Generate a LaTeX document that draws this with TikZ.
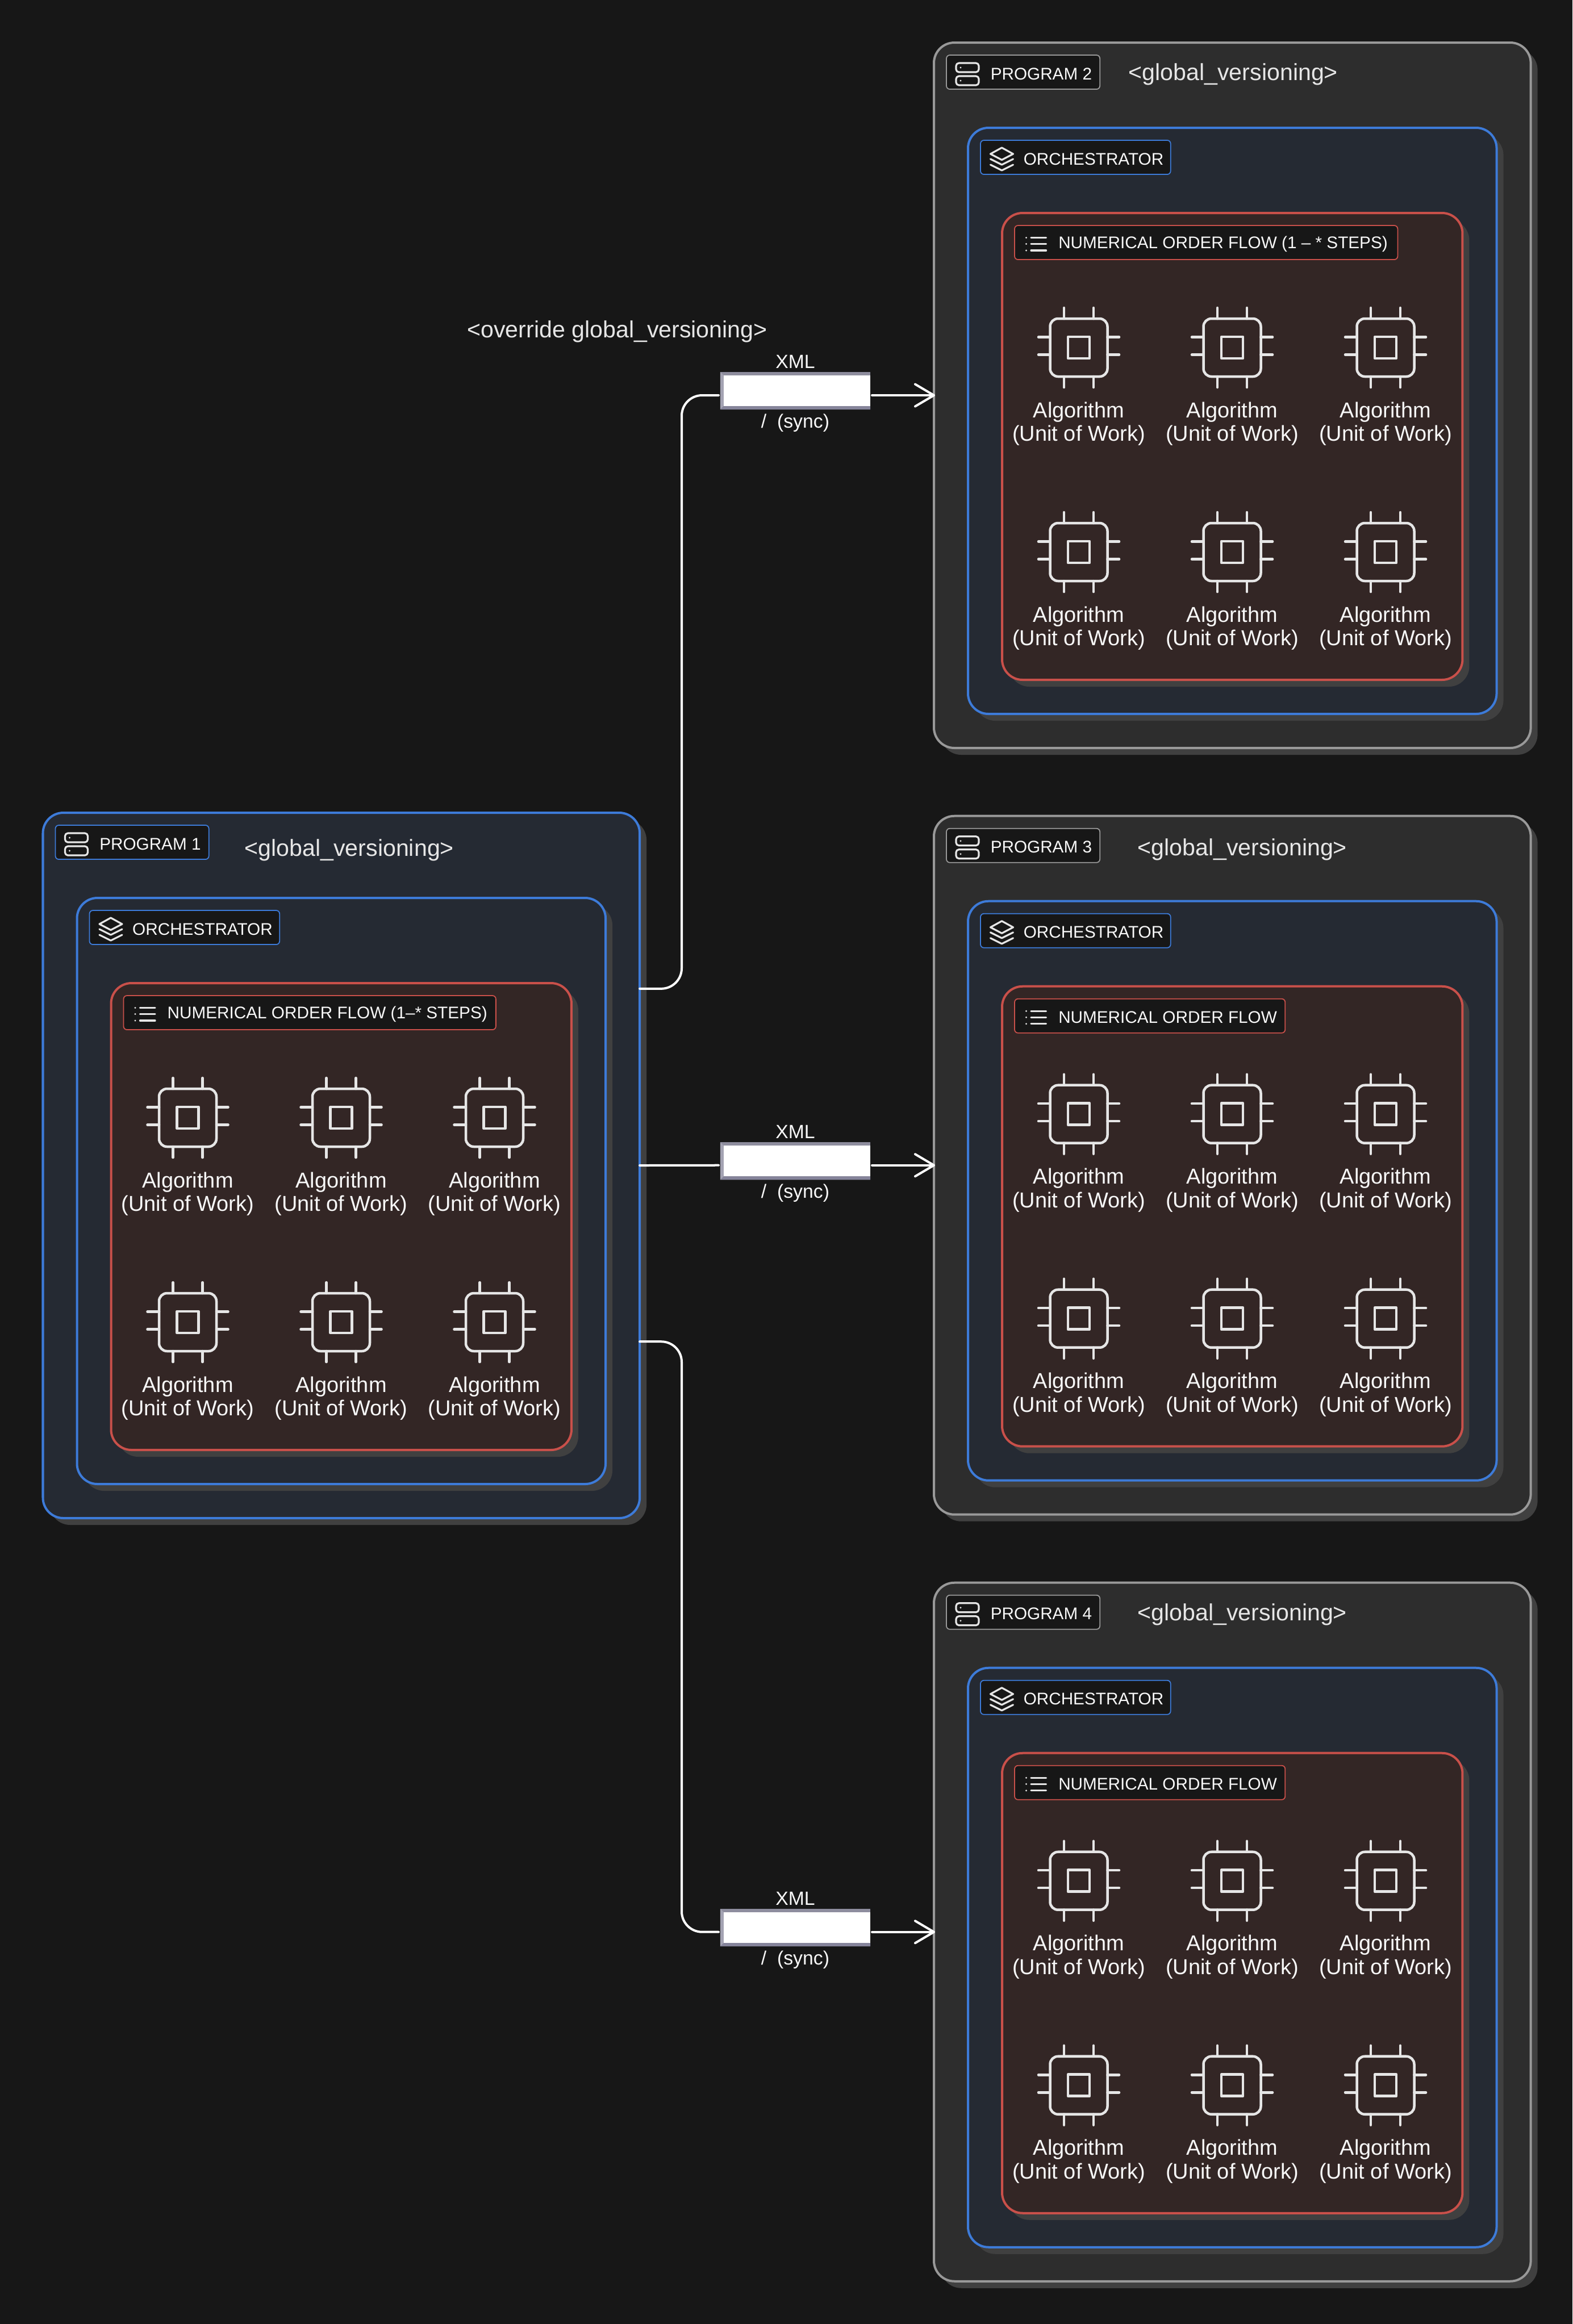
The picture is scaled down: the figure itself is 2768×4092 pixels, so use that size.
\documentclass[tikz,border=0pt]{standalone}
\usepackage{fontspec}
\setmainfont{Liberation Sans}
\usetikzlibrary{arrows.meta,shadows}
\definecolor{canvasdark}{HTML}{171717}
\definecolor{shadowgrey}{HTML}{404040}
\definecolor{panelgrey}{HTML}{2D2D2D}
\definecolor{panelblue}{HTML}{252A33}
\definecolor{panelred}{HTML}{332625}
\definecolor{edgegrey}{HTML}{999999}
\definecolor{edgeblue}{HTML}{3D7BD9}
\definecolor{edgered}{HTML}{C9504A}
\definecolor{inkpale}{HTML}{F8F8F8}
\definecolor{iconpale}{HTML}{E6E6E6}
\definecolor{bevelmid}{HTML}{8E8D9E}
\definecolor{bevellight}{HTML}{A3A2B2}
\definecolor{beveldark}{HTML}{85849A}

\begin{document}
\begin{tikzpicture}[
  x=0.01cm,
  y=-0.01cm,
  panel/.style={rectangle, rounded corners=0.36cm, line width=0.04cm, outer sep=0pt,
    inner sep=0pt, anchor=north west,
    copy shadow={draw=none, fill=shadowgrey, shadow xshift=0.12cm, shadow yshift=-0.12cm}},
  tagbox/.style={rectangle, rounded corners=0.06cm, line width=0.018cm, fill=canvasdark,
    outer sep=0pt, inner sep=0pt, anchor=north west, minimum height=0.6cm},
  tagtext/.style={anchor=west, inner sep=0pt, text=inkpale, yshift=-0.03cm,
    font=\fontsize{8.45}{10}\selectfont},
  headtext/.style={anchor=west, inner sep=0pt, text=iconpale, yshift=-0.03cm,
    font=\fontsize{11.7}{14}\selectfont},
  chiptext/.style={align=center, inner sep=0pt, text=inkpale, yshift=-0.035cm,
    font=\fontsize{10.8}{11.8}\selectfont},
  linktext/.style={inner sep=0pt, text=inkpale, yshift=-0.025cm,
    font=\fontsize{9.6}{11}\selectfont},
  icon/.style={iconpale, line width=0.032cm, line join=round, line cap=round},
  xmlbox/.style={rectangle, fill=bevelmid, outer sep=0pt, inner sep=0pt,
    minimum width=2.64cm, minimum height=0.66cm},
  wire/.style={white, line width=0.04cm, line cap=round},
  arrowwire/.style={wire, -{Straight Barb[length=0.33cm, width=0.39cm, round]}},
  servericon/.pic={
    \draw[icon, rounded corners=0.05cm] (17,-16) rectangle (57,0);
    \draw[icon, rounded corners=0.05cm] (17,7) rectangle (57,23);
    \fill[iconpale] (25,-8) circle[radius=0.016cm] (25,15) circle[radius=0.016cm];
  },
  layersicon/.pic={
    \draw[icon] (17.5,-6) -- (37.5,-17) -- (57.5,-6) -- (37.5,4.5) -- cycle;
    \draw[icon] (17.5,3) -- (37.5,13) -- (57.5,3);
    \draw[icon] (17.5,13) -- (37.5,23) -- (57.5,13);
  },
  listicon/.pic={
    \foreach \ly in {-8.5,2.5,14} {
      \draw[icon] (29,\ly) -- (55.5,\ly);
      \fill[iconpale] (20.5,\ly) circle[radius=0.016cm];
    }
  },
  chipicon/.pic={
    \draw[icon, line width=0.045cm, rounded corners=0.14cm] (-50.5,-51) rectangle (50.5,51);
    \draw[icon, line width=0.045cm, line cap=butt] (-19,-19) rectangle (19,19);
    \foreach \pin in {-26,26} {
      \draw[icon, line width=0.045cm] (\pin,-51) -- (\pin,-70);
      \draw[icon, line width=0.045cm] (\pin,51) -- (\pin,70);
    }
    \foreach \pin in {-18.5,12.5} {
      \draw[icon, line width=0.045cm] (-50.5,\pin) -- (-71,\pin);
      \draw[icon, line width=0.045cm] (50.5,\pin) -- (71,\pin);
    }
  }
]
  % ---- page, at one unit per pixel of the reference ----------------------
  \fill[canvasdark] (0,0) rectangle (2768,4092);
  \useasboundingbox (0,0) rectangle (2768,4092);

  % ---- the four programs, each with orchestrator and order flow ----------
  \foreach \n/\px/\py/\ph/\pdraw/\pfill/\gdx/\gdy/\fwidth/\rowtop/\flabel in {
    1/75.5/1431/1242/edgeblue/panelblue/354.5/63/6.55/237/{NUMERICAL ORDER FLOW (1--* STEPS)},
    2/1644/75/1242/edgegrey/panelgrey/342/53/6.74/237/{NUMERICAL ORDER FLOW (1 -- * STEPS)},
    3/1644/1436.7/1230/edgegrey/panelgrey/358/56/4.76/225/{NUMERICAL ORDER FLOW},
    4/1644/2786.7/1230/edgegrey/panelgrey/358/53/4.76/225/{NUMERICAL ORDER FLOW}%
  } {
    \node[panel, draw=\pdraw, fill=\pfill, minimum width=10.5cm,
      minimum height={\ph*0.01cm}] (p\n) at (\px,\py) {};
    \node[tagbox, draw=\pdraw, minimum width=2.7cm] (p\n tag)
      at ([shift={(22,22)}]p\n.north west) {};
    \pic at (p\n tag.west) {servericon};
    \node[tagtext] (p\n name) at ([xshift=0.77cm]p\n tag.west) {PROGRAM \n};
    \node[headtext] (p\n head) at ([shift={(\gdx,\gdy)}]p\n.north west) {<global\_versioning>};

    \node[panel, draw=edgeblue, fill=panelblue, minimum width=9.3cm,
      minimum height={(\ph-210)*0.01cm}] (o\n) at ([shift={(60,150)}]p\n.north west) {};
    \node[tagbox, draw=edgeblue, minimum width=3.345cm] (o\n tag)
      at ([shift={(22,22)}]o\n.north west) {};
    \pic at (o\n tag.west) {layersicon};
    \node[tagtext] (o\n name) at ([xshift=0.75cm]o\n tag.west) {ORCHESTRATOR};

    \node[panel, draw=edgered, fill=panelred, minimum width=8.1cm,
      minimum height={(\ph-420)*0.01cm}] (f\n) at ([shift={(60,150)}]o\n.north west) {};
    \node[tagbox, draw=edgered, minimum width=\fwidth cm] (f\n tag)
      at ([shift={(22,22)}]f\n.north west) {};
    \pic at (f\n tag.west) {listicon};
    \node[tagtext] (f\n name) at ([xshift=0.765cm]f\n tag.west) {\flabel};

    % ---- algorithms, three in a row, two rows ------------------------------
    \foreach \cx in {135,405,675} {
      \foreach \ry in {0,360} {
        \pic at ([shift={(\cx,\rowtop+\ry)}]f\n.north west) {chipicon};
        \node[chiptext] (alg\n-\cx-\ry) at ([shift={(\cx,\rowtop+\ry+130.5)}]f\n.north west)
          {Algorithm\\(Unit of Work)};
      }
    }
  }

  % ---- links out of program 1 ---------------------------------------------
  \coordinate (p1top) at ([yshift=3.11cm]p1.east);
  \coordinate (p1low) at ([yshift=-3.10cm]p1.east);

  \foreach \t/\boxy in {2/688,3/2044.3,4/3394} {
    \node[xmlbox] (xml\t) at (1400,\boxy) {};
    \fill[bevellight] (xml\t.north west) -- ([shift={(6,6)}]xml\t.north west)
      -- ([shift={(6,-6)}]xml\t.south west) -- (xml\t.south west) -- cycle;
    \fill[beveldark] (xml\t.south west) -- ([shift={(6,-6)}]xml\t.south west)
      -- ([yshift=0.06cm]xml\t.south east) -- (xml\t.south east) -- cycle;
    \fill[white] ([shift={(6,6)}]xml\t.north west) rectangle ([yshift=0.06cm]xml\t.south east);
    \node[linktext] (xml\t top) at ([yshift=0.205cm]xml\t.north) {XML};
    \node[linktext] (xml\t low) at ([yshift=-0.21cm]xml\t.south) {/\ \ (sync)};
    \coordinate (xml\t in) at ([xshift=-0.03cm]xml\t.west |- p\t.west);
    \coordinate (xml\t out) at ([xshift=0.03cm]xml\t.east |- p\t.west);
    \draw[arrowwire] (xml\t out) -- ([xshift=0.02cm]p\t.west);
  }
  \coordinate (busx) at (1200,2051);
  \draw[wire, rounded corners=0.36cm] (p1top) -| (busx |- xml2in) -- (xml2in);
  \draw[wire] (p1.east) -- (xml3in);
  \draw[wire, rounded corners=0.36cm] (p1low) -| (busx |- xml4in) -- (xml4in);

  % ---- free note above the first link ------------------------------------
  \node[headtext, anchor=center, yshift=-0.02cm] (override) at (1086.5,579) {<override global\_versioning>};
\end{tikzpicture}
\end{document}
